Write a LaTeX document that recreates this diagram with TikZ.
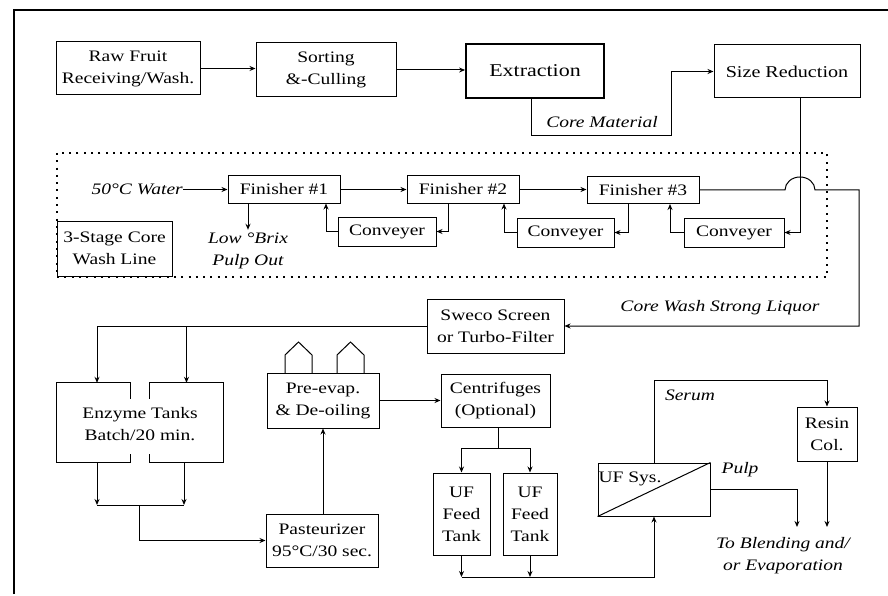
\documentclass[tikz,border=0pt]{standalone}
\usepackage{fontspec}
\setmainfont[FakeStretch=1.22]{Liberation Serif}
\usetikzlibrary{arrows.meta}
\newcommand\myfs{\fontsize{16}{22}\selectfont}
\begin{document}
\begin{tikzpicture}[x=1pt,y=-1pt,
  box/.style={draw,line width=1pt,inner sep=0pt,align=center,font=\myfs},
  lbl/.style={inner sep=0pt,align=center,font=\myfs\itshape},
  ln/.style={line width=1pt},
  arr/.style={line width=1pt,-{Stealth[length=6pt,width=5pt]}},
  dotbox/.style={line width=1.6pt,dash pattern=on 2pt off 5.3pt}
  ]
\useasboundingbox (0,0) rectangle (888,596);
% outer frame
\draw[line width=1.2pt] (14,594) -- (14,10) -- (888,10);

% top row
\node[box,minimum width=144pt,minimum height=53pt] (raw) at (128,68.5) {Raw Fruit\\Receiving/Wash.};
\node[box,minimum width=140pt,minimum height=54pt] (sort) at (326,70) {Sorting\\\&-Culling};
\node[box,line width=1.8pt,minimum width=138pt,minimum height=54pt,font=\fontsize{18}{22}\selectfont] (extr) at (535,71) {Extraction};
\node[box,minimum width=146pt,minimum height=53pt,font=\fontsize{16.5}{22}\selectfont] (size) at (787,71.5) {Size Reduction};
\draw[arr] (raw.east) -- (raw.east -| sort.west);
\draw[arr] (sort.east) -- (sort.east -| extr.west);
\coordinate (cm1) at (671,136);
\draw[arr] ([xshift=-4pt]extr.south) |- (cm1) |- (size.west);
\node[lbl] (corel) at (602,122) {Core Material};

% core wash line
\draw[dotbox] (57,153) rectangle (827,277);
\node[box,fill=white,minimum width=115pt,minimum height=55pt] (stage) at (114.5,248.5) {3-Stage Core\\Wash Line};
\node[lbl,anchor=east] (water) at (183,189.5) {50°C Water};
\node[box,minimum width=112pt,minimum height=27pt] (fin1) at (284,189.5) {Finisher \#1};
\node[box,minimum width=112pt,minimum height=27pt] (fin2) at (463,189.5) {Finisher \#2};
\node[box,minimum width=112pt,minimum height=27pt] (fin3) at (643,190) {Finisher \#3};
\node[box,minimum width=98pt,minimum height=29pt] (conv1) at (387,231.5) {Conveyer};
\node[box,minimum width=97pt,minimum height=29pt] (conv2) at (565.5,232.5) {Conveyer};
\node[box,minimum width=100pt,minimum height=29pt] (conv3) at (734,232.5) {Conveyer};
\node[lbl] (lb) at (248,251) {Low °Brix\\Pulp Out};
\draw[arr] (water.east) -- (water.east -| fin1.west);
\draw[arr] (fin1.east) -- (fin1.east -| fin2.west);
\draw[arr] (fin2.east) -- (fin2.east -| fin3.west);
\draw[arr] (fin1.south -| lb.north) -- ([yshift=3pt]lb.north);
\draw[arr] (conv1.west) -| ([xshift=42pt]fin1.south);
\draw[arr] ([xshift=-15pt]fin2.south) |- (conv1.east);
\draw[arr] (conv2.west) -| ([xshift=41pt]fin2.south);
\draw[arr] ([xshift=-15pt]fin3.south) |- (conv2.east);
\draw[arr] (conv3.west) -| ([xshift=27pt]fin3.south);
\draw[arr] ([xshift=13pt]size.south) |- (conv3.east);

% strong liquor with hop
\node[box,minimum width=137pt,minimum height=54pt] (sweco) at (495.5,326) {Sweco Screen\\or Turbo-Filter};
\coordinate (h1) at (785,190);
\coordinate (h2) at (859,190);
\draw[arr] (fin3.east) -- (h1) arc[start angle=180,end angle=0,x radius=15pt,y radius=13pt] -- (h2) |- (sweco.east);
\node[lbl] (cwl) at (720,308) {Core Wash Strong Liquor};

% enzyme tanks
\node[minimum width=73pt,minimum height=79pt,inner sep=0pt] (enz1) at (93.5,422.5) {};
\node[minimum width=73pt,minimum height=79pt,inner sep=0pt] (enz2) at (186.5,422.5) {};
\draw[ln] ([yshift=-16pt]enz1.north east) -- (enz1.north east) -- (enz1.north west) -- (enz1.south west) -- (enz1.south east) -- ([yshift=8pt]enz1.south east);
\draw[ln] ([yshift=-16pt]enz2.north west) -- (enz2.north west) -- (enz2.north east) -- (enz2.south east) -- (enz2.south west) -- ([yshift=8pt]enz2.south west);
\node[lbl,font=\myfs] (enzl) at (140,424) {Enzyme Tanks\\Batch/20 min.};
\draw[arr] (sweco.west) -| ([xshift=3.5pt]enz1.north);
\draw[arr] (enz2.north |- sweco.west) -- (enz2.north);
\coordinate (ej1) at (97,505);
\coordinate (ej2) at (184,505);
\coordinate (ejm) at (139,505);
\draw[arr] ([xshift=3.5pt]enz1.south) -- (ej1);
\draw[arr] ([xshift=-2.5pt]enz2.south) -- (ej2);
\draw[ln] (ej1) -- (ej2);

% pasteurizer / pre-evap
\node[box,minimum width=112pt,minimum height=53pt] (past) at (322,540.5) {Pasteurizer\\95°C/30 sec.};
\node[box,minimum width=112pt,minimum height=55pt] (pre) at (323,400.5) {Pre-evap.\\\& De-oiling};
\draw[arr] (ejm) |- (past.west);
\draw[arr] (past.north -| pre.south) -- (pre.south);
\draw[ln] (285,373) -- (285,355) -- (298.5,342) -- (312,355) -- (312,373);
\draw[ln] (337,373) -- (337,355) -- (350.5,342) -- (364,355) -- (364,373);

% centrifuges and UF
\node[box,minimum width=109pt,minimum height=53pt] (cent) at (495.5,400.5) {Centrifuges\\(Optional)};
\draw[arr] (pre.east) -- (pre.east -| cent.west);
\node[box,minimum width=57pt,minimum height=82pt] (uf1) at (461.5,514) {UF\\Feed\\Tank};
\node[box,minimum width=54pt,minimum height=82pt] (uf2) at (530,514) {UF\\Feed\\Tank};
\coordinate (cj) at (498,448);
\draw[ln] (cent.south -| cj) -- (cj);
\draw[arr] (cj) -| (uf1.north);
\draw[arr] (cj) -| (uf2.north);
\node[draw,line width=1pt,minimum width=112pt,minimum height=53pt,inner sep=0pt] (ufs) at (654,489.5) {};
\draw[ln] (ufs.south west) -- (ufs.north east);
\node[box,draw=none] (ufsl) at (630,479) {UF Sys.};
\coordinate (ub1) at (461.5,577);
\coordinate (ub2) at (530,577);
\draw[arr] (uf1.south) -- (ub1);
\draw[arr] (uf2.south) -- (ub2);
\draw[arr] (ub1) -| (ufs.south);

% serum / resin / pulp
\node[box,minimum width=60pt,minimum height=54pt] (resin) at (827,434) {Resin\\Col.};
\coordinate (sr) at (654,380);
\draw[arr] (ufs.north) -- (sr) -| (resin.north);
\node[lbl] (serl) at (690,395) {Serum};
\coordinate (rb) at (827,527);
\coordinate (pb) at (797,527);
\draw[arr] (resin.south) -- (rb);
\draw[arr] (ufs.east) -| (pb);
\node[lbl] (pulpl) at (740,470) {Pulp};
\node[lbl] (blend) at (783,556) {To Blending and/\\or Evaporation};
\end{tikzpicture}
\end{document}
